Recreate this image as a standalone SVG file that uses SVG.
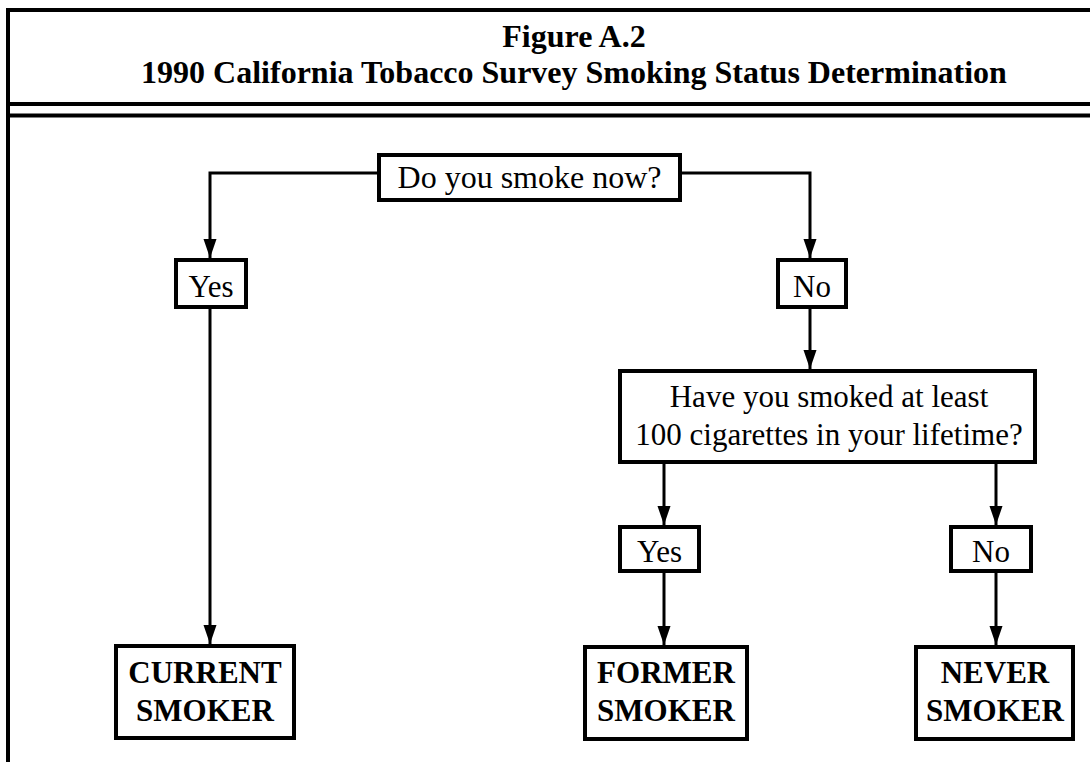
<svg xmlns="http://www.w3.org/2000/svg" width="1090" height="762" viewBox="0 0 1090 762">
<defs>
<style>
.frame{stroke:#000;stroke-width:4;fill:none}
.box{fill:#fff;stroke:#000;stroke-width:4}
.conn{fill:none;stroke:#000;stroke-width:3}
.t{font-family:"Liberation Serif","Times New Roman",serif;font-size:31px;fill:#000;text-anchor:middle}
.b{font-family:"Liberation Serif","Times New Roman",serif;font-size:31px;font-weight:bold;fill:#000;text-anchor:middle}
.title{font-family:"Liberation Serif","Times New Roman",serif;font-size:32px;font-weight:bold;fill:#000;text-anchor:middle}
</style>
<marker id="arr" markerUnits="userSpaceOnUse" markerWidth="20" markerHeight="14" refX="19" refY="7" orient="auto">
<path d="M0,0.5 L19,7 L0,13.5 z" fill="#000"/>
</marker>
</defs>
<rect width="1090" height="762" fill="#fff"/>
<g id="frame">
<line class="frame" x1="6" y1="10" x2="1090" y2="10"/>
<line class="frame" x1="8" y1="8" x2="8" y2="762"/>
<line class="frame" x1="8" y1="104" x2="1090" y2="104"/>
<line class="frame" x1="8" y1="115.5" x2="1090" y2="115.5"/>
</g>
<g id="title">
<text class="title" x="574" y="47">Figure A.2</text>
<text class="title" x="574" y="83">1990 California Tobacco Survey Smoking Status Determination</text>
</g>
<g id="connectors">
<path class="conn" d="M379,173 H210 V258" marker-end="url(#arr)"/>
<path class="conn" d="M680,173 H810 V258" marker-end="url(#arr)"/>
<path class="conn" d="M810,309 V369" marker-end="url(#arr)"/>
<path class="conn" d="M210,309 V644" marker-end="url(#arr)"/>
<path class="conn" d="M664,464 V525" marker-end="url(#arr)"/>
<path class="conn" d="M996,464 V525" marker-end="url(#arr)"/>
<path class="conn" d="M664,573 V645" marker-end="url(#arr)"/>
<path class="conn" d="M996,573 V645" marker-end="url(#arr)"/>
</g>
<g id="q1">
<rect class="box" x="379" y="155" width="301" height="45"/>
<text class="t" x="529.5" y="188" style="font-size:32px">Do you smoke now?</text>
</g>
<g id="yes1">
<rect class="box" x="176" y="260" width="70" height="47"/>
<text class="t" x="211" y="297">Yes</text>
</g>
<g id="no1">
<rect class="box" x="778" y="260" width="68" height="47"/>
<text class="t" x="812" y="297">No</text>
</g>
<g id="q2">
<rect class="box" x="620" y="371" width="415" height="91"/>
<text class="t" x="829" y="407">Have you smoked at least</text>
<text class="t" x="829" y="445">100 cigarettes in your lifetime?</text>
</g>
<g id="yes2">
<rect class="box" x="620" y="527" width="79" height="44"/>
<text class="t" x="659.5" y="562">Yes</text>
</g>
<g id="no2">
<rect class="box" x="951" y="527" width="80" height="44"/>
<text class="t" x="991" y="562">No</text>
</g>
<g id="current">
<rect class="box" x="116" y="646" width="178" height="92"/>
<text class="b" x="205" y="683">CURRENT</text>
<text class="b" x="205" y="721">SMOKER</text>
</g>
<g id="former">
<rect class="box" x="585" y="647" width="162" height="92"/>
<text class="b" x="666" y="683">FORMER</text>
<text class="b" x="666" y="721">SMOKER</text>
</g>
<g id="never">
<rect class="box" x="916" y="647" width="157" height="92"/>
<text class="b" x="995" y="683">NEVER</text>
<text class="b" x="995" y="721">SMOKER</text>
</g>
</svg>
